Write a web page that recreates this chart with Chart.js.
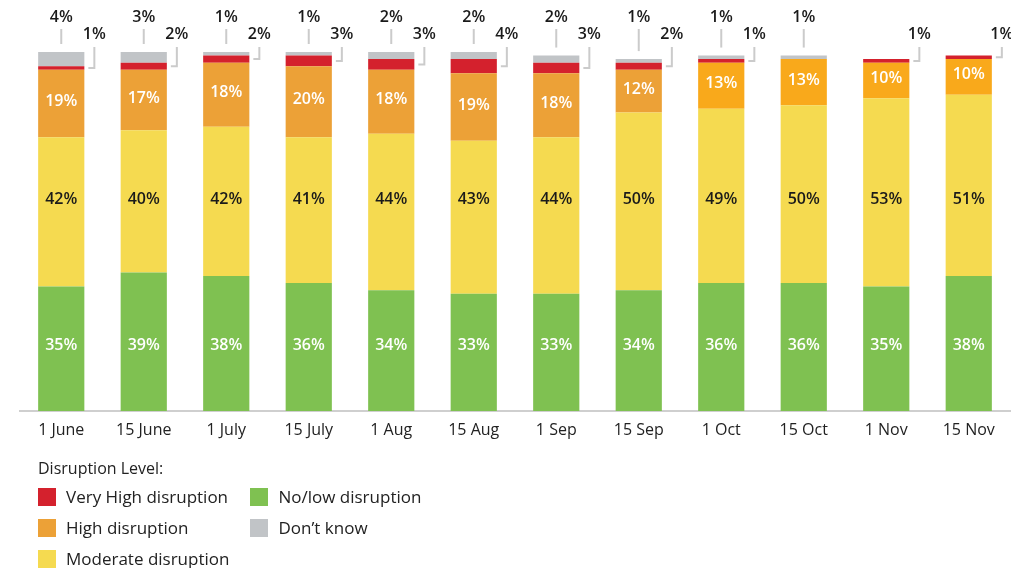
<!DOCTYPE html>
<html>
<head>
<meta charset="utf-8">
<script src="https://cdn.jsdelivr.net/npm/chart.js@4/dist/chart.umd.min.js"></script>
<style>
  body { margin: 0; background: #fff; font-family: "Open Sans", sans-serif; color: #222; }
  #wrap { position: relative; width: 1011px; height: 568px; overflow: hidden; }
  #legenda { position: absolute; left: 38px; top: 456px; font-size: 17px; }
  #legenda .titulo { height: 24px; line-height: 24px; font-size: 16px; }
  #legenda .cols { display: flex; margin-top: 1px; }
  #legenda .col { margin-right: 21px; }
  #legenda .item { display: flex; align-items: center; height: 31px; }
  #legenda .box { width: 18px; height: 18px; margin-right: 10px; }
</style>
</head>
<body>
<div id="wrap">
  <canvas id="grafico" width="1011" height="568"></canvas>
  <div id="legenda">
    <div class="titulo">Disruption Level:</div>
    <div class="cols">
      <div class="col">
        <div class="item"><span class="box" style="background:#d4212d"></span>Very High disruption</div>
        <div class="item"><span class="box" style="background:#eca137"></span>High disruption</div>
        <div class="item"><span class="box" style="background:#f5da50"></span>Moderate disruption</div>
      </div>
      <div class="col">
        <div class="item"><span class="box" style="background:#7fc151"></span>No/low disruption</div>
        <div class="item"><span class="box" style="background:#c1c4c7"></span>Don’t know</div>
      </div>
    </div>
  </div>
</div>
<script>
var datas = ["1 June", "15 June", "1 July", "15 July", "1 Aug", "15 Aug", "1 Sep", "15 Sep", "1 Oct", "15 Oct", "1 Nov", "15 Nov"];
var semNivel = [35, 39, 38, 36, 34, 33, 33, 34, 36, 36, 35, 38];
var moderado = [42, 40, 42, 41, 44, 43, 44, 50, 49, 50, 53, 51];
var alto = [19, 17, 18, 20, 18, 19, 18, 12, 13, 13, 10, 10];
var muitoAlto = [1, 2, 2, 3, 3, 4, 3, 2, 1, 0, 1, 1];
var naoSabe = [4, 3, 1, 1, 2, 2, 2, 1, 1, 1, 0, 0];

var corAlto = datas.map(function (d, i) { return i < 8 ? '#eca137' : '#f9a91b'; });

// labels inside the bars and the callouts on top
var rotulos = {
  id: 'rotulos',
  afterDatasetsDraw: function (chart) {
    var ctx = chart.ctx;
    var y = chart.scales.y;
    ctx.save();
    ctx.font = '600 16px "Open Sans"';
    ctx.textAlign = 'center';
    ctx.textBaseline = 'middle';
    // green and yellow labels sit on a common line, orange ones in the middle of the segment
    var linha = [y.getPixelForValue(18.5), y.getPixelForValue(59.5)];
    [0, 1, 2].forEach(function (ds) {
      var meta = chart.getDatasetMeta(ds);
      meta.data.forEach(function (bar, i) {
        var v = chart.data.datasets[ds].data[i];
        var py = ds < 2 ? linha[ds] : (bar.y + bar.base) / 2 - 2;
        ctx.fillStyle = ds == 1 ? '#1a1a1a' : '#ffffff';
        ctx.fillText(v + '%', bar.x, py);
      });
    });

    var vermelho = chart.getDatasetMeta(3);
    var cinza = chart.getDatasetMeta(4);
    ctx.strokeStyle = '#cbcbcb';
    ctx.lineWidth = 2;
    vermelho.data.forEach(function (bar, i) {
      ctx.fillStyle = '#1a1a1a';
      var g = cinza.data[i];
      if (naoSabe[i] > 0) {
        ctx.fillText(naoSabe[i] + '%', bar.x, 17);
        ctx.beginPath();
        ctx.moveTo(bar.x, 29);
        ctx.lineTo(bar.x, g.y - 8);
        ctx.stroke();
      }
      if (muitoAlto[i] > 0) {
        var dir = bar.x + bar.width / 2;
        var meio = (bar.y + bar.base) / 2;
        ctx.fillText(muitoAlto[i] + '%', dir + 10, 34);
        ctx.beginPath();
        ctx.moveTo(dir + 10, 47);
        ctx.lineTo(dir + 10, meio);
        ctx.lineTo(dir + 4, meio);
        ctx.stroke();
      }
    });
    ctx.restore();
  }
};

var grafico = new Chart(document.getElementById('grafico').getContext('2d'), {
  type: 'bar',
  data: {
    labels: datas,
    datasets: [
      { label: 'No/low disruption', data: semNivel, backgroundColor: '#7fc151' },
      { label: 'Moderate disruption', data: moderado, backgroundColor: '#f5da50' },
      { label: 'High disruption', data: alto, backgroundColor: corAlto },
      { label: 'Very High disruption', data: muitoAlto, backgroundColor: '#d4212d' },
      { label: "Don't know", data: naoSabe, backgroundColor: '#c1c4c7' }
    ]
  },
  options: {
    responsive: false,
    animation: false,
    layout: { padding: { left: 20, right: 1, top: 52, bottom: 0 } },
    datasets: { bar: { categoryPercentage: 1, barPercentage: 0.56, borderWidth: 0 } },
    plugins: { legend: { display: false }, tooltip: { enabled: false } },
    scales: {
      x: {
        stacked: true,
        grid: { display: false, drawTicks: false },
        border: { display: true, color: '#cfcfcf', width: 2 },
        ticks: { color: '#222', font: { family: 'Open Sans', size: 16 }, padding: 10, maxRotation: 0 },
        afterFit: function (scale) { scale.height = 157; }
      },
      y: { stacked: true, display: false, min: 0, max: 101 }
    }
  },
  plugins: [rotulos]
});
</script>
</body>
</html>
